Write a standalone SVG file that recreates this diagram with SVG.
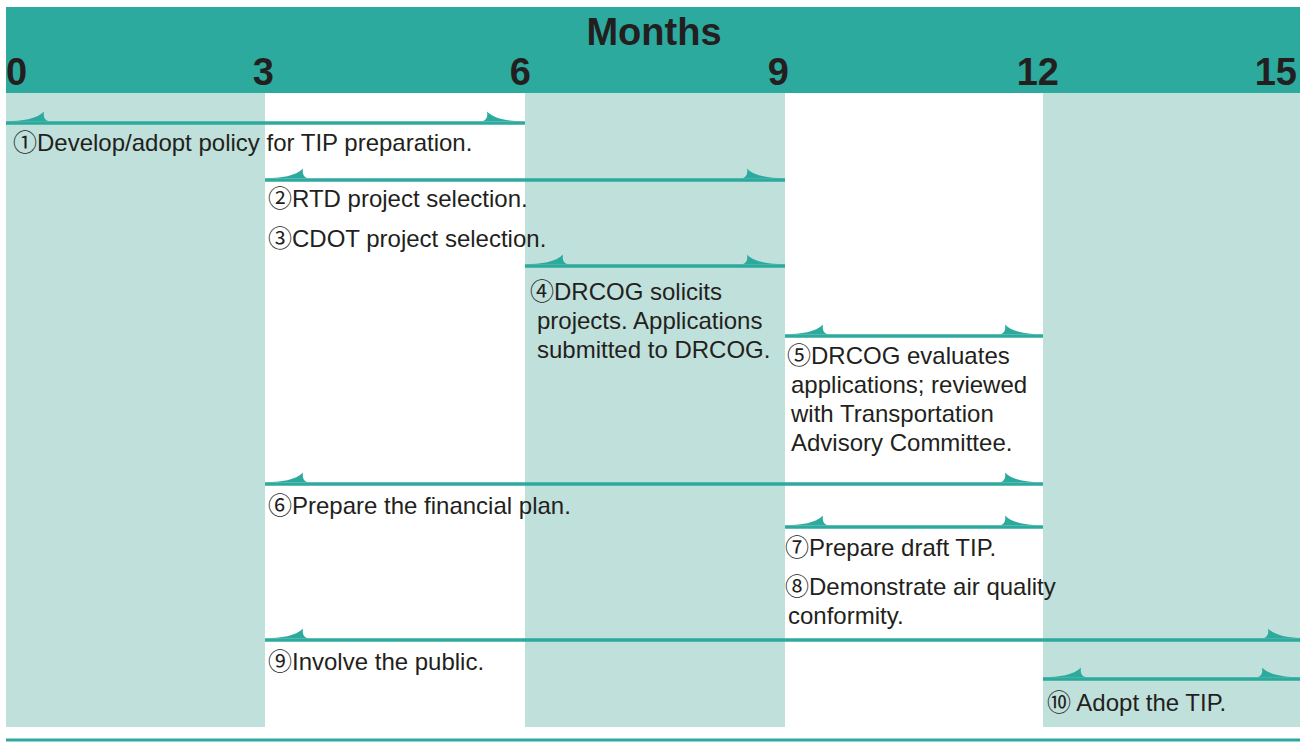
<svg xmlns="http://www.w3.org/2000/svg" xmlns:xlink="http://www.w3.org/1999/xlink" width="1300" height="742" viewBox="0 0 1300 742">
<style>
.hdr{fill:#2DAA9E}
.lt{fill:#C0E0DB}
.bar{stroke:#2DAA9E;stroke-width:3.6;fill:none}
.fl{fill:#2DAA9E}
.num{font-family:"Liberation Sans",Arial,sans-serif;font-weight:bold;font-size:38px;fill:#231F20}
.t{font-family:"Liberation Sans",Arial,"Noto Sans CJK JP",sans-serif;font-size:24px;fill:#231F20}
</style>
<defs>
<path id="fl" d="M0,-1.8 C16,-1.8 31,-4 38,-11.5 C37,-6 39,-2.5 43,-1.8 Z"/>
</defs>
<rect width="1300" height="742" fill="#ffffff"/>
<g id="background">
<rect class="hdr" x="6" y="7" width="1294" height="86"/>
<rect class="lt" x="6" y="93" width="259" height="634"/>
<rect class="lt" x="525" y="93" width="260" height="634"/>
<rect class="lt" x="1043" y="93" width="257" height="634"/>
<rect class="hdr" x="6" y="738.5" width="1294" height="3"/>
</g>
<g id="axis">
<text class="num" x="654" y="45" text-anchor="middle">Months</text>
<text class="num" x="6" y="85">0</text>
<text class="num" x="274" y="85" text-anchor="end">3</text>
<text class="num" x="531" y="85" text-anchor="end">6</text>
<text class="num" x="789" y="85" text-anchor="end">9</text>
<text class="num" x="1059" y="85" text-anchor="end">12</text>
<text class="num" x="1297" y="85" text-anchor="end">15</text>
</g>
<g id="connectors">
<line class="bar" x1="6" y1="123" x2="525" y2="123"/>
<use href="#fl" class="fl" transform="translate(6,123)"/>
<use href="#fl" class="fl" transform="translate(525,123) scale(-1,1)"/>
<line class="bar" x1="265" y1="180" x2="785" y2="180"/>
<use href="#fl" class="fl" transform="translate(265,180)"/>
<use href="#fl" class="fl" transform="translate(785,180) scale(-1,1)"/>
<line class="bar" x1="525" y1="266" x2="785" y2="266"/>
<use href="#fl" class="fl" transform="translate(525,266)"/>
<use href="#fl" class="fl" transform="translate(785,266) scale(-1,1)"/>
<line class="bar" x1="785" y1="336" x2="1043" y2="336"/>
<use href="#fl" class="fl" transform="translate(785,336)"/>
<use href="#fl" class="fl" transform="translate(1043,336) scale(-1,1)"/>
<line class="bar" x1="265" y1="484" x2="1043" y2="484"/>
<use href="#fl" class="fl" transform="translate(265,484)"/>
<use href="#fl" class="fl" transform="translate(1043,484) scale(-1,1)"/>
<line class="bar" x1="785" y1="527" x2="1043" y2="527"/>
<use href="#fl" class="fl" transform="translate(785,527)"/>
<use href="#fl" class="fl" transform="translate(1043,527) scale(-1,1)"/>
<line class="bar" x1="265" y1="640" x2="1300" y2="640"/>
<use href="#fl" class="fl" transform="translate(265,640)"/>
<use href="#fl" class="fl" transform="translate(1306,640) scale(-1,1)"/>
<line class="bar" x1="1043" y1="679" x2="1300" y2="679"/>
<use href="#fl" class="fl" transform="translate(1043,679)"/>
<use href="#fl" class="fl" transform="translate(1300,679) scale(-1,1)"/>
</g>
<g id="task1"><text class="t" x="13" y="151">①Develop/adopt policy for TIP preparation.</text></g>
<g id="task2"><text class="t" x="268" y="207">②RTD project selection.</text></g>
<g id="task3"><text class="t" x="268" y="247">③CDOT project selection.</text></g>
<g id="task4"><text class="t" x="530" y="300">④DRCOG solicits</text>
<text class="t" x="537" y="329">projects. Applications</text>
<text class="t" x="537" y="358">submitted to DRCOG.</text></g>
<g id="task5"><text class="t" x="787" y="364">⑤DRCOG evaluates</text>
<text class="t" x="791" y="393">applications; reviewed</text>
<text class="t" x="791" y="422">with Transportation</text>
<text class="t" x="791" y="451">Advisory Committee.</text></g>
<g id="task6"><text class="t" x="268" y="514">⑥Prepare the financial plan.</text></g>
<g id="task7"><text class="t" x="785" y="556">⑦Prepare draft TIP.</text></g>
<g id="task8"><text class="t" x="785" y="595">⑧Demonstrate air quality</text>
<text class="t" x="788" y="624">conformity.</text></g>
<g id="task9"><text class="t" x="268" y="670">⑨Involve the public.</text></g>
<g id="task10"><text class="t" x="1047" y="711">⑩ Adopt the TIP.</text></g>
</svg>
